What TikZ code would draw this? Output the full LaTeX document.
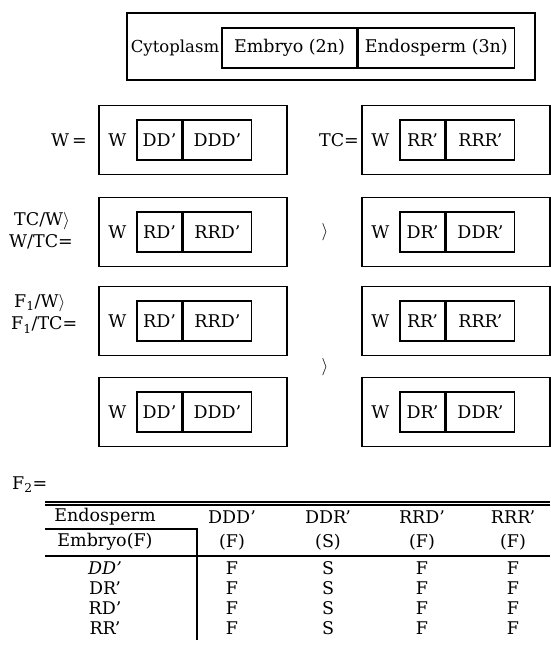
\documentclass[tikz,border=0pt]{standalone}
\usepackage{fontspec}
\setmainfont{DejaVu Serif}
\begin{document}
\begin{tikzpicture}[x=1pt,y=-1pt,
  every node/.style={font=\fontsize{17.5}{19}\selectfont,inner sep=0pt},
  frame/.style={draw,line width=1.4pt,minimum width=188pt,minimum height=69pt},
  half/.style={draw,line width=1.4pt,minimum height=40pt},
  rule/.style={line width=1.2pt}]
\useasboundingbox (0,0) rectangle (550,672);

% header box
\node[draw,line width=1.4pt,minimum width=408pt,minimum height=67pt] (head) at (331,46.5) {};
\node[font=\fontsize{16.5}{18}\selectfont] (cyto) at (175,48) {Cytoplasm};
\node[half,minimum width=135pt] (emb) at (289.5,48) {Embryo (2n)};
\node[half,minimum width=156pt,anchor=west] (endo) at (emb.east) {Endosperm (3n)};

% seed boxes
\foreach \nm/\cx/\cy/\em/\en in {
    w/193/140/DD’/DDD’, tc/456/140/RR’/RRR’,
    tcw/193/232/RD’/RRD’, wtc/456/232/DR’/DDR’,
    fw/193/321/RD’/RRD’, ftc/456/321/RR’/RRR’,
    fa/193/412/DD’/DDD’, fb/456/412/DR’/DDR’} {
  \node[frame] (\nm) at (\cx,\cy) {};
  \node (\nm-w) at ([xshift=19pt]\nm.west) {W};
  \node[half,minimum width=45pt,anchor=west] (\nm-em) at ([xshift=38pt]\nm.west) {\em};
  \node[half,minimum width=68pt,anchor=west] (\nm-en) at (\nm-em.east) {\en};
}

% labels
\node[anchor=east] (lw) at (87,140) {W\,=};
\node[anchor=east] (ltc) at (359,140) {TC=};
\node[anchor=west] (ltcw) at (14,221) {TC/W$\rangle$};
\node[anchor=west] (lwtc) at (9,242) {W/TC=};
\node[anchor=west] (lfw) at (14,303) {F\textsubscript{1}/W$\rangle$};
\node[anchor=west] (lftc) at (11,325) {F\textsubscript{1}/TC=};
\node (gt1) at (325,232) {$\rangle$};
\node (gt2) at (325,367) {$\rangle$};
\node[anchor=west] (lf2) at (12,485) {F\textsubscript{2}=};

% F2 table
\draw[rule] (45,502) -- (550,502);
\draw[rule] (45,505) -- (550,505);
\node (tendo) at (105,517) {Endosperm};
\node (temb) at (105,542) {Embryo(F)};
\draw[rule] (45,529) -- (197,529) -- (197,640);
\draw[rule] (45,556) -- (550,556);
\foreach \x/\g/\p in {232/DDD’/F, 328/DDR’/S, 422/RRD’/F, 513/RRR’/F} {
  \node (g\x) at (\x,517) {\g};
  \node (p\x) at (\x,542) {(\p)};
}
\foreach \y/\r in {568/\textit{DD’}, 588/DR’, 608/RD’, 628/RR’} {
  \node (r\y) at (105,\y) {\r};
  \foreach \x/\v in {232/F, 328/S, 422/F, 513/F}
    \node (c\x-\y) at (\x,\y) {\v};
}
\end{tikzpicture}
\end{document}
